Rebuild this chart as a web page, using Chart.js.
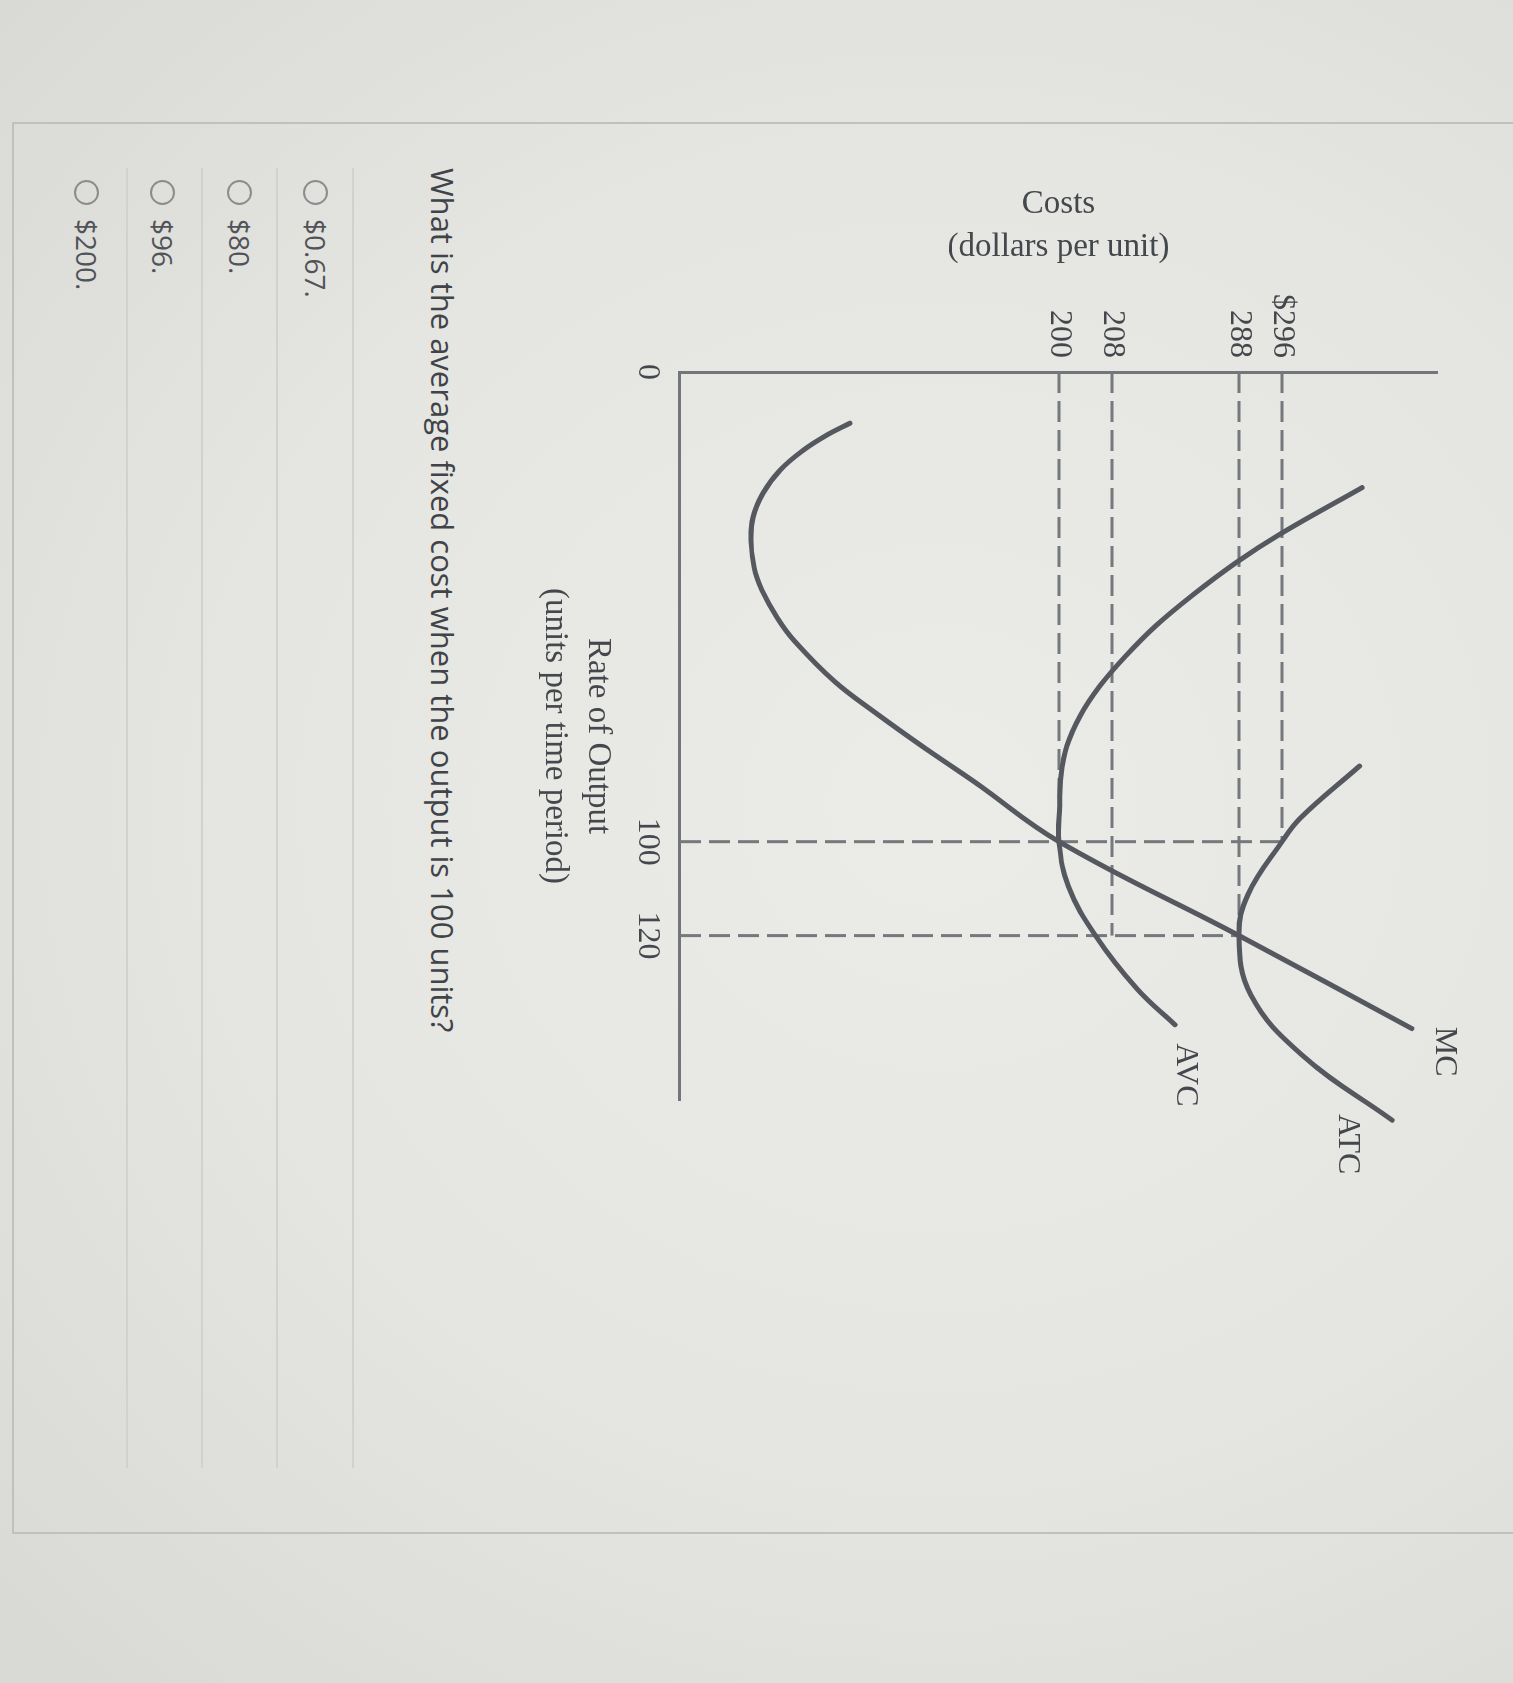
<!DOCTYPE html>
<html>
<head>
<meta charset="utf-8">
<title>Cost curves</title>
<script src="https://cdn.jsdelivr.net/npm/chart.js@4.4.1/dist/chart.umd.min.js"></script>
<style>
  html, body { margin: 0; padding: 0; }
  body {
    width: 1513px; height: 1683px; overflow: hidden; position: relative;
    background: radial-gradient(ellipse 85% 70% at 62% 48%, #ebebe8 0%, #e5e5e1 55%, #d9d9d5 100%);
  }
  #stage {
    position: absolute; left: 0; top: 0; width: 1683px; height: 1513px;
    transform-origin: 0 0; transform: translateX(1513px) rotate(90deg);
  }
  #card {
    position: absolute; left: 122px; top: -20px; width: 1412px; height: 1521px;
    box-sizing: border-box; border: 2px solid #c0c0bd;
  }
  #chart { position: absolute; left: 0; top: 0; }
  #question {
    position: absolute; left: 168px; top: 1050px; line-height: 40px; white-space: nowrap;
    font-family: "Open Sans", "Noto Sans", sans-serif; font-size: 31px; color: #404347;
  }
  .sep { position: absolute; left: 168px; width: 1300px; height: 2px; background: #d1d1cd; }
  .opt {
    position: absolute; left: 180px; height: 40px; display: flex; align-items: center; white-space: nowrap;
    font-family: "Open Sans", "Noto Sans", sans-serif; font-size: 28px; color: #505357;
  }
  .radio {
    width: 25px; height: 25px; box-sizing: border-box; border: 2px solid #8a8d90; border-radius: 50%;
    margin-right: 14px; flex: none;
  }
</style>
</head>
<body>
<div id="stage">
  <div id="card"></div>
  <canvas id="chart" width="1683" height="1000"></canvas>
  <div id="question">What is the average fixed cost when the output is 100 units?</div>
  <div id="answers"></div>
</div>
<script>
// ---------- data ----------
const outputTicks = [0, 100, 120];
const costTicks = [200, 208, 288, 296];
const costTickLabels = ['200', '208', '288', '$296'];

const mcOutput  = [10.9, 13.4, 16.7, 20.9, 25.8, 31.0, 35.9, 41.6, 46.5, 52.3, 57.2, 65.8, 72.8, 80.1, 87.5, 100, 120, 139.8];
const mcCost    = [89.7, 77.6, 64.9, 52.8, 43.8, 38.5, 37.5, 39.1, 43.3, 51.2, 60.2, 81.3, 104.0, 129.3, 156.2, 200, 288, 320.3];

const avcOutput = [24.6, 34.4, 40.6, 47.6, 54.0, 60.4, 66.8, 73.2, 79.6, 86.0, 92.4, 100, 109.5, 120, 131.3, 139.0];
const avcCost   = [311.0, 295.8, 286.1, 258.4, 235.7, 216.8, 206.2, 203.2, 201.2, 200.3, 200.1, 200, 201.4, 205.5, 223.7, 247.7];

const atcOutput = [83.9, 95.0, 100, 111.2, 120, 132.6, 145.4, 159.3];
const atcCost   = [310.5, 299.4, 296, 289.7, 288, 290.2, 299.7, 316.6];

const guideOutputs    = [100, 120];
const guideOutputTops = [296, 288];
const guideCosts      = [200, 208, 288, 296];
const guideCostEnds   = [100, 120, 120, 100];

const answerOptions = ['$0.67.', '$80.', '$96.', '$200.'];

// ---------- page furniture (answers list) ----------
const answers = document.getElementById('answers');
const sepTops = [1159, 1235, 1310, 1385];
sepTops.forEach(t => {
  const d = document.createElement('div');
  d.className = 'sep'; d.style.top = t + 'px';
  answers.appendChild(d);
});
const optCenters = [1197, 1273, 1350, 1426];
answerOptions.forEach((txt, i) => {
  const row = document.createElement('div');
  row.className = 'opt'; row.style.top = (optCenters[i] - 20) + 'px';
  const r = document.createElement('span'); r.className = 'radio';
  const s = document.createElement('span'); s.textContent = txt;
  row.appendChild(r); row.appendChild(s);
  answers.appendChild(row);
});

// ---------- schematic (piecewise) cost scale ----------
class PiecewiseScale extends Chart.LinearScale {
  _frac(v) {
    const b = this.options.breaks, f = this.options.fractions;
    let i = 1;
    while (i < b.length - 1 && v > b[i]) i++;
    return f[i - 1] + (v - b[i - 1]) * (f[i] - f[i - 1]) / (b[i] - b[i - 1]);
  }
  _unfrac(d) {
    const b = this.options.breaks, f = this.options.fractions;
    let i = 1;
    while (i < f.length - 1 && d > f[i]) i++;
    return b[i - 1] + (d - f[i - 1]) * (b[i] - b[i - 1]) / (f[i] - f[i - 1]);
  }
  getPixelForValue(v) {
    if (v === null || v === undefined || Number.isNaN(v)) return NaN;
    return this.getPixelForDecimal(this._frac(v));
  }
  getValueForPixel(p) { return this._unfrac(this.getDecimalForPixel(p)); }
}
PiecewiseScale.id = 'piecewise';
Chart.register(PiecewiseScale);

// ---------- styles ----------
const CURVE = '#55595f', AXIS = '#72757a', DASH = '#75787c', TEXT = '#44484d';
const SERIF = '"Liberation Serif", "Times New Roman", serif';

const toPoints = (xs, ys) => xs.map((x, i) => ({ x, y: ys[i] }));
const curveStyle = {
  borderColor: CURVE, borderWidth: 5, pointRadius: 0, tension: 0.4,
  borderCapStyle: 'round', borderJoinStyle: 'round', fill: false, clip: false, order: 1
};
const dashStyle = {
  borderColor: DASH, borderWidth: 3, borderDash: [21, 8], pointRadius: 0, tension: 0,
  fill: false, clip: false, order: 2
};

const datasets = [
  { ...curveStyle, label: 'MC',  data: toPoints(mcOutput, mcCost),   endLabel: 'MC',  endLabelOffset: [23, -33] },
  { ...curveStyle, label: 'AVC', data: toPoints(avcOutput, avcCost), endLabel: 'AVC', endLabelOffset: [50, -10] },
  { ...curveStyle, label: 'ATC', data: toPoints(atcOutput, atcCost), endLabel: 'ATC', endLabelOffset: [24, 45] },
  ...guideOutputs.map((x, i) => ({ ...dashStyle, label: 'q' + x, data: [{ x, y: 0 }, { x, y: guideOutputTops[i] }] })),
  ...guideCosts.map((c, i) => ({ ...dashStyle, label: 'c' + c, data: [{ x: 0, y: c }, { x: guideCostEnds[i], y: c }] }))
];

const curveLabels = {
  id: 'curveLabels',
  afterDatasetsDraw(chart) {
    const ctx = chart.ctx;
    chart.data.datasets.forEach((ds, i) => {
      if (!ds.endLabel) return;
      const meta = chart.getDatasetMeta(i);
      const pt = meta.data[meta.data.length - 1];
      ctx.save();
      ctx.font = '32px ' + SERIF;
      ctx.fillStyle = TEXT;
      ctx.textAlign = 'center';
      ctx.textBaseline = 'middle';
      ctx.fillText(ds.endLabel, pt.x + ds.endLabelOffset[0], pt.y + ds.endLabelOffset[1]);
      ctx.restore();
    });
  }
};

new Chart(document.getElementById('chart'), {
  type: 'line',
  data: { datasets },
  plugins: [curveLabels],
  options: {
    responsive: false,
    animation: false,
    events: [],
    layout: { padding: { left: 0, top: 76, right: 583, bottom: 0 } },
    plugins: { legend: { display: false }, tooltip: { enabled: false } },
    scales: {
      x: {
        type: 'linear', position: 'bottom', min: 0, max: 155,
        afterBuildTicks: s => { s.ticks = outputTicks.map(v => ({ value: v })); },
        afterFit: s => { s.height = 167; },
        grid: { display: false, drawTicks: false },
        border: { display: true, color: AXIS, width: 3 },
        ticks: { autoSkip: false, maxRotation: 0, padding: 13, color: TEXT, font: { family: SERIF, size: 32 },
                 callback: v => String(v) },
        title: { display: true, text: ['Rate of Output', '(units per time period)'], color: TEXT,
                 font: { family: SERIF, size: 33, lineHeight: 1.3 }, padding: { top: 0, bottom: 20.5 } }
      },
      y: {
        type: 'piecewise', position: 'left', min: 0, max: 325,
        breaks:    [0, 200, 208, 288, 296, 325],
        fractions: [0, 0.5007, 0.5707, 0.7384, 0.7953, 1],
        afterBuildTicks: s => { s.ticks = costTicks.map(v => ({ value: v })); },
        afterFit: s => { s.width = 372; },
        grid: { display: false, drawTicks: false },
        border: { display: true, color: AXIS, width: 3 },
        ticks: { autoSkip: false, padding: 14, color: TEXT, font: { family: SERIF, size: 32 },
                 callback: v => costTickLabels[costTicks.indexOf(v)] ?? String(v) },
        title: { display: true, text: ['Costs', '(dollars per unit)'], color: TEXT,
                 font: { family: SERIF, size: 33, lineHeight: 1.3 }, padding: { top: 182.5, bottom: 0 } }
      }
    }
  }
});
</script>
</body>
</html>
